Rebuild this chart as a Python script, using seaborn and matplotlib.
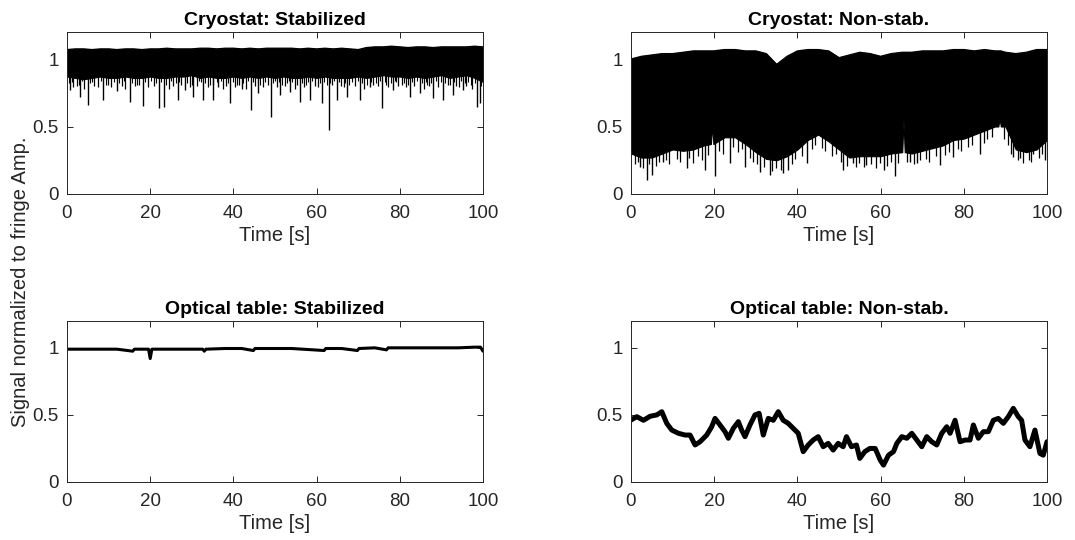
import numpy as np
import matplotlib
matplotlib.use("Agg")
import matplotlib.pyplot as plt
import seaborn as sns

# ---------------- data ----------------
titles = ["Cryostat: Stabilized", "Cryostat: Non-stab.",
          "Optical table: Stabilized", "Optical table: Non-stab."]
xlabel = "Time [s]"
ylabel = "Signal normalized to fringe Amp."
xticks = [0, 20, 40, 60, 80, 100]
yticks = [0, 0.5, 1]
ytick_labels = ["0", "0.5", "1"]

# Cryostat, stabilized: dense oscillation band (upper / lower envelope) + downward spikes
cs_t = np.arange(0, 101, 2)
cs_upper = [1.07, 1.075, 1.075, 1.07, 1.075, 1.075, 1.07, 1.075, 1.075, 1.07, 1.075,
            1.075, 1.08, 1.075, 1.075, 1.075, 1.08, 1.08, 1.075, 1.08, 1.08, 1.075,
            1.08, 1.075, 1.08, 1.08, 1.08, 1.08, 1.075, 1.08, 1.075, 1.08, 1.075, 1.08,
            1.075, 1.07, 1.085, 1.09, 1.09, 1.095, 1.09, 1.085, 1.09, 1.09, 1.085, 1.09,
            1.09, 1.09, 1.09, 1.095, 1.09]
cs_lower = [0.87, 0.86, 0.85, 0.86, 0.87, 0.86, 0.86, 0.87, 0.86, 0.86, 0.87, 0.86,
            0.86, 0.87, 0.87, 0.88, 0.86, 0.87, 0.86, 0.86, 0.87, 0.86, 0.87, 0.86,
            0.87, 0.86, 0.87, 0.86, 0.86, 0.87, 0.86, 0.87, 0.86, 0.86, 0.86, 0.87,
            0.86, 0.87, 0.88, 0.87, 0.87, 0.86, 0.87, 0.86, 0.87, 0.88, 0.86, 0.87,
            0.88, 0.86, 0.83]
cs_spike_t = [0.7, 3.1, 5.1, 8.7, 11.9, 15.1, 18.3, 22.0, 23.2, 26.8, 28.4, 30.4, 32.8,
              35.2, 36.4, 39.2, 42.0, 44.2, 46.0, 49.0, 51.3, 53.7, 56.0, 58.4, 61.2,
              62.9, 64.8, 67.2, 70.4, 72.8, 75.8, 78.4, 82.4, 84.8, 88.0, 90.4, 92.8,
              95.2, 98.6, 99.2]
cs_spike_v = [0.77, 0.72, 0.66, 0.70, 0.76, 0.68, 0.65, 0.635, 0.647, 0.70, 0.77, 0.72,
              0.696, 0.70, 0.79, 0.674, 0.78, 0.622, 0.746, 0.573, 0.733, 0.758, 0.684,
              0.696, 0.672, 0.474, 0.696, 0.721, 0.696, 0.795, 0.635, 0.77, 0.721, 0.746,
              0.709, 0.696, 0.733, 0.77, 0.647, 0.672]
cs_minor_t = [1.5, 2.3, 4.2, 6.5, 7.4, 9.8, 10.6, 13.2, 14.0, 16.4, 17.2, 19.5, 20.8,
              24.4, 25.5, 27.5, 29.5, 31.2, 33.8, 35.0, 37.5, 38.2, 40.5, 41.3, 43.0,
              45.2, 47.0, 48.2, 50.5, 52.3, 54.8, 55.4, 57.0, 59.5, 60.3, 63.8, 65.8,
              66.5, 69.2, 71.5, 73.6, 74.8, 77.2, 79.6, 80.5, 81.6, 83.5, 85.8, 87.0,
              89.2, 91.5, 93.6, 94.2, 96.0, 97.4]
cs_minor_v = [0.79, 0.80, 0.78, 0.80, 0.79, 0.81, 0.79, 0.80, 0.78, 0.80, 0.81, 0.79,
              0.80, 0.78, 0.80, 0.81, 0.79, 0.80, 0.79, 0.81, 0.78, 0.80, 0.79, 0.81,
              0.78, 0.80, 0.79, 0.81, 0.79, 0.80, 0.78, 0.81, 0.79, 0.80, 0.79, 0.81,
              0.80, 0.79, 0.80, 0.78, 0.81, 0.80, 0.79, 0.80, 0.81, 0.79, 0.80, 0.78,
              0.80, 0.79, 0.81, 0.80, 0.79, 0.80, 0.78]
cs_fine_t = [0.4, 1.1, 2.8, 3.6, 5.6, 6.0, 8.1, 9.3, 11.2, 12.5, 13.6, 15.6, 16.8, 18.8,
             20.3, 21.4, 22.6, 23.8, 25.0, 26.2, 27.0, 28.9, 30.0, 31.8, 32.3, 33.2,
             34.4, 36.0, 37.0, 38.8, 39.8, 40.9, 42.4, 43.6, 44.7, 45.8, 46.5, 47.6,
             49.6, 50.0, 51.0, 51.8, 52.8, 53.3, 54.2, 56.5, 57.5, 58.0, 59.0, 60.8,
             61.7, 62.5, 63.3, 64.3, 65.3, 66.9, 67.8, 68.6, 70.0, 70.9, 72.2, 73.1,
             74.2, 75.3, 76.4, 76.8, 77.8, 78.9, 79.2, 81.0, 82.0, 82.9, 84.2, 85.3,
             86.2, 86.6, 87.6, 88.6, 89.8, 90.9, 92.1, 93.1, 94.8, 95.6, 96.5, 97.0,
             98.0, 99.6]
cs_fine_v = [0.82, 0.83, 0.81, 0.84, 0.82, 0.83, 0.84, 0.81, 0.83, 0.82, 0.84, 0.82,
             0.81, 0.83, 0.84, 0.82, 0.83, 0.81, 0.84, 0.82, 0.83, 0.82, 0.81, 0.84,
             0.83, 0.82, 0.81, 0.83, 0.84, 0.82, 0.83, 0.81, 0.82, 0.84, 0.83, 0.82,
             0.81, 0.83, 0.82, 0.84, 0.83, 0.81, 0.82, 0.84, 0.83, 0.82, 0.81, 0.83,
             0.84, 0.82, 0.83, 0.81, 0.82, 0.84, 0.83, 0.82, 0.81, 0.83, 0.84, 0.82,
             0.81, 0.83, 0.82, 0.84, 0.83, 0.81, 0.82, 0.84, 0.83, 0.82, 0.81, 0.83,
             0.84, 0.82, 0.83, 0.81, 0.82, 0.84, 0.83, 0.82, 0.81, 0.83, 0.84, 0.82,
             0.83, 0.81, 0.82, 0.80]

# Cryostat, non-stabilized
cn_t = [0, 2.5, 5, 7.5, 10, 12.5, 15, 17.5, 19.2, 19.5, 19.8, 22.5, 25, 27.5, 30, 32.5,
        35, 37.5, 40, 42.5, 45, 47.5, 50, 52.5, 55, 57.5, 60, 62.5, 65.2, 65.5, 65.8,
        67.5, 70, 72.5, 75, 77.5, 80, 82.5, 85, 87.5, 88.3, 88.6, 88.9, 90, 92.5, 95,
        97.5, 100]
cn_upper = [1.00, 1.02, 1.03, 1.04, 1.04, 1.05, 1.06, 1.06, 1.06, 1.06, 1.06, 1.07,
            1.07, 1.06, 1.06, 1.04, 0.96, 1.02, 1.06, 1.07, 1.07, 1.06, 1.01, 1.03,
            1.05, 1.04, 1.02, 1.04, 1.05, 1.05, 1.05, 1.05, 1.06, 1.06, 1.06, 1.07,
            1.07, 1.06, 1.07, 1.06, 1.06, 1.06, 1.06, 1.05, 1.04, 1.05, 1.07, 1.07]
cn_lower = [0.30, 0.27, 0.27, 0.30, 0.33, 0.32, 0.33, 0.36, 0.37, 0.51, 0.37, 0.42,
            0.42, 0.37, 0.31, 0.26, 0.25, 0.28, 0.33, 0.40, 0.44, 0.39, 0.33, 0.27,
            0.28, 0.28, 0.28, 0.30, 0.31, 0.55, 0.31, 0.30, 0.32, 0.34, 0.36, 0.40,
            0.41, 0.44, 0.47, 0.50, 0.50, 0.56, 0.50, 0.50, 0.33, 0.31, 0.33, 0.40]
cn_spike_t = [2.2, 3.8, 5.0, 7.8, 13.4, 17.8, 20.2, 23.8, 27.4, 31.0, 33.4, 36.6, 37.8,
              42.2, 51.0, 53.4, 56.6, 60.7, 63.5, 67.1, 68.7, 74.3, 77.5, 83.9, 91.9,
              93.5, 96.7, 99.5]
cn_spike_v = [0.20, 0.104, 0.141, 0.24, 0.19, 0.178, 0.13, 0.227, 0.20, 0.165, 0.141,
              0.153, 0.178, 0.227, 0.178, 0.227, 0.215, 0.178, 0.13, 0.24, 0.227, 0.215,
              0.277, 0.30, 0.277, 0.265, 0.30, 0.252]
cn_minor_t = [1.0, 1.8, 3.0, 4.4, 6.0, 6.8, 8.4, 9.2, 11.0, 11.8, 14.0, 14.8, 16.2, 17.0,
              18.6, 21.2, 22.0, 24.6, 25.8, 26.6, 28.6, 29.4, 30.4, 32.0, 34.0, 34.8,
              36.0, 38.6, 39.4, 41.0, 43.4, 44.2, 45.8, 46.6, 48.4, 49.2, 50.4, 52.0,
              54.0, 54.8, 56.0, 57.8, 59.0, 59.8, 61.6, 62.4, 64.2, 66.4, 68.0, 69.4,
              70.8, 71.6, 73.2, 75.6, 76.4, 78.6, 79.4, 81.0, 82.0, 84.8, 85.6, 86.8,
              89.6, 90.6, 91.4, 93.0, 94.2, 95.6, 96.2, 98.0, 98.8]
cn_minor_v = [0.22, 0.24, 0.19, 0.22, 0.21, 0.24, 0.25, 0.22, 0.26, 0.24, 0.27, 0.23,
              0.28, 0.25, 0.29, 0.32, 0.30, 0.35, 0.31, 0.33, 0.27, 0.24, 0.22, 0.20,
              0.17, 0.19, 0.18, 0.22, 0.26, 0.28, 0.33, 0.36, 0.34, 0.32, 0.28, 0.30,
              0.24, 0.21, 0.20, 0.23, 0.20, 0.22, 0.19, 0.23, 0.21, 0.24, 0.23, 0.24,
              0.22, 0.25, 0.26, 0.24, 0.28, 0.29, 0.31, 0.33, 0.32, 0.35, 0.36, 0.38,
              0.41, 0.42, 0.41, 0.36, 0.30, 0.25, 0.23, 0.25, 0.24, 0.27, 0.30]

# Optical table, stabilized
os_t = [0, 4, 8, 12, 15.8, 16.2, 19.6, 20.0, 20.4, 24, 28, 32.6, 33.0, 33.4, 38, 42,
        44.8, 45.2, 50, 54, 61.8, 62.2, 66, 69.8, 70.2, 74, 76.8, 77.2, 82, 86, 90, 94,
        98, 99.4, 100]
os_v = [0.99, 0.99, 0.99, 0.99, 0.975, 0.99, 0.99, 0.92, 0.99, 0.99, 0.99, 0.99, 0.975,
        0.99, 0.995, 0.995, 0.98, 0.995, 0.995, 0.995, 0.98, 0.995, 0.995, 0.98, 0.995,
        1.0, 0.985, 1.0, 1.0, 1.0, 1.0, 1.0, 1.005, 1.005, 0.975]

# Optical table, non-stabilized
on_t = [0, 1.4, 3, 4.6, 6.2, 7.4, 8.6, 9.8, 11.4, 13, 14.2, 15.4, 16.6, 18.2, 19.4,
        20.2, 21.4, 22.6, 23.4, 24.6, 25.8, 26.6, 27.4, 28.6, 29.8, 30.8, 31.8, 33,
        34.2, 35.4, 36.6, 37.8, 39, 40.2, 41.4, 42.6, 43.8, 45, 46.2, 47.4, 48.6, 49.8,
        51, 51.8, 53, 54.2, 55, 56.2, 57.4, 58.7, 59.9, 60.7, 61.9, 63.1, 63.9, 65.1,
        66.3, 67.5, 68.7, 69.9, 71.1, 72.3, 73.5, 74.7, 75.9, 76.7, 77.9, 79.1, 80.3,
        81.5, 82.3, 83.5, 84.7, 85.9, 87.1, 88.3, 89.5, 90.7, 91.9, 93.1, 93.9, 94.7,
        95.9, 97.1, 98.3, 99.1, 100]
on_v = [0.462, 0.487, 0.46, 0.49, 0.5, 0.524, 0.437, 0.387, 0.363, 0.35,
        0.35, 0.276, 0.3, 0.35, 0.412, 0.474, 0.425, 0.375, 0.326, 0.4,
        0.45, 0.387, 0.338, 0.425, 0.5, 0.512, 0.35, 0.474, 0.46, 0.524,
        0.46, 0.437, 0.4, 0.363, 0.226, 0.276, 0.313, 0.338, 0.263, 0.288,
        0.238, 0.288, 0.263, 0.338, 0.263, 0.276, 0.176, 0.226, 0.25, 0.25,
        0.164, 0.126, 0.2, 0.226, 0.288, 0.338, 0.326, 0.363, 0.313, 0.263,
        0.338, 0.3, 0.276, 0.363, 0.412, 0.363, 0.46, 0.3, 0.313, 0.313,
        0.425, 0.326, 0.375, 0.375, 0.46, 0.474, 0.437, 0.487, 0.549, 0.487,
        0.46, 0.313, 0.263, 0.387, 0.213, 0.2, 0.3]

# ---------------- style ----------------
sns.set_theme(style="white")
plt.rcParams['font.family'] = ['Liberation Sans', 'DejaVu Sans']
AX_COL = "#262626"
plt.rcParams.update({
    "axes.edgecolor": AX_COL,
    "axes.linewidth": 0.7,
    "xtick.color": AX_COL,
    "ytick.color": AX_COL,
    "xtick.direction": "in",
    "ytick.direction": "in",
    "xtick.major.size": 4,
    "ytick.major.size": 4,
    "xtick.major.width": 0.7,
    "ytick.major.width": 0.7,
    "xtick.labelsize": 13.5,
    "ytick.labelsize": 13.5,
})

fig = plt.figure(figsize=(10.75, 5.4), dpi=100)
W, H = 1075, 540
pos = [(67, 32, 416, 162), (631, 32, 416, 162), (67, 321, 416, 161), (631, 321, 416, 161)]
axes = [fig.add_axes([x / W, 1 - (y + h) / H, w / W, h / H]) for x, y, w, h in pos]


def band(ax, t, lo, hi, spikes):
    ax.fill_between(t, lo, hi, color="black", lw=0.8, edgecolor="black")
    sns.lineplot(x=t, y=hi, ax=ax, color="black", lw=0.9, estimator=None)
    for sp_t, sp_v, lw in spikes:
        ax.vlines(sp_t, sp_v, 0.9, color="black", lw=lw)


band(axes[0], cs_t, cs_lower, cs_upper,
     [(cs_fine_t, cs_fine_v, 0.8), (cs_minor_t, cs_minor_v, 0.9), (cs_spike_t, cs_spike_v, 1.0)])
band(axes[1], cn_t, cn_lower, cn_upper,
     [(cn_minor_t, cn_minor_v, 0.9), (cn_spike_t, cn_spike_v, 1.0)])
sns.lineplot(x=os_t, y=os_v, ax=axes[2], color="black", lw=2.2, estimator=None)
sns.lineplot(x=on_t, y=on_v, ax=axes[3], color="black", lw=3.6, estimator=None)

for ax, title in zip(axes, titles):
    ax.set_xlim(0, 100)
    ax.set_ylim(0, 1.2)
    ax.set_xticks(xticks)
    ax.set_xticklabels([str(v) for v in xticks])
    ax.set_yticks(yticks)
    ax.set_yticklabels(ytick_labels)
    ax.tick_params(top=True, right=True, bottom=True, left=True, pad=6)
    ax.tick_params(axis="x", pad=8)
    ax.set_title(title, fontsize=14, fontweight="bold", color="black", pad=5)
    ax.set_xlabel(xlabel, fontsize=14.5, color=AX_COL, labelpad=3)
    ax.set_ylabel("")
    for s in ax.spines.values():
        s.set_visible(True)

fig.text(21 / W, 1 - 282 / H, ylabel, rotation=90, fontsize=14.5, color=AX_COL,
         ha="center", va="center")

fig.savefig("out.png", dpi=100)
